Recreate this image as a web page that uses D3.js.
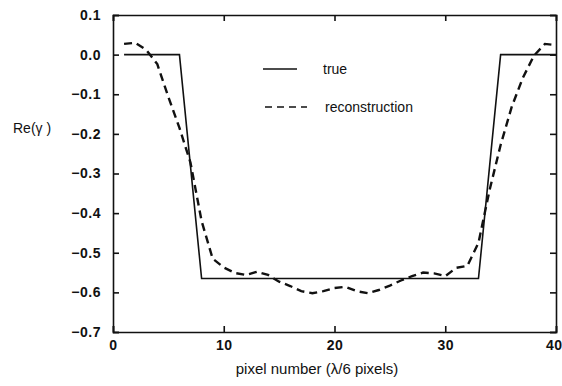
<!DOCTYPE html>
<html>
<head>
<meta charset="utf-8">
<script src="https://cdn.jsdelivr.net/npm/d3@7"></script>
<style>
  body { margin: 0; background: #fff; }
  svg { display: block; }
  .tick text { font-family: "Liberation Sans", Arial, sans-serif; font-weight: bold; font-size: 14px; letter-spacing: 0.5px; }
  .lbl { font-family: "Liberation Sans", Arial, sans-serif; fill: #111; }
</style>
</head>
<body>
<svg id="chart" width="562" height="386"></svg>
<script>
'use strict';

// pixel index 1..40
const pixels = d3.range(1, 41);

// true profile (piecewise, sampled at integer pixels)
const trueValues = [
  0, 0, 0, 0, 0, 0, -0.2825, -0.565, -0.565, -0.565,
  -0.565, -0.565, -0.565, -0.565, -0.565, -0.565, -0.565, -0.565, -0.565, -0.565,
  -0.565, -0.565, -0.565, -0.565, -0.565, -0.565, -0.565, -0.565, -0.565, -0.565,
  -0.565, -0.565, -0.565, -0.2825, 0, 0, 0, 0, 0, 0
];

// reconstruction
const reconValues = [
  0.027, 0.030, 0.012, -0.024, -0.107, -0.185, -0.273, -0.420, -0.515, -0.537,
  -0.551, -0.556, -0.548, -0.556, -0.573, -0.584, -0.597, -0.602, -0.597, -0.589,
  -0.586, -0.597, -0.602, -0.594, -0.583, -0.570, -0.559, -0.550, -0.552, -0.559,
  -0.538, -0.533, -0.475, -0.342, -0.228, -0.132, -0.059, -0.003, 0.027, 0.024
];

const xTicks = [0, 10, 20, 30, 40];
const yTicks = [0.1, 0.0, -0.1, -0.2, -0.3, -0.4, -0.5, -0.6, -0.7];

const svg = d3.select('#chart');
const plotLeft = 113, plotRight = 556, plotTop = 15, plotBottom = 332;

const x = d3.scaleLinear().domain([0, 40]).range([plotLeft, plotRight]);
const y = d3.scaleLinear().domain([-0.7, 0.1]).range([plotBottom, plotTop]);

const fmtY = d => (d < 0 ? '\u2212' : '') + Math.abs(d).toFixed(1);

// axes, ticks pointing inward on all four sides
const xAxis = svg.append('g')
  .attr('transform', `translate(0,${plotBottom})`)
  .call(d3.axisBottom(x).tickValues(xTicks).tickSize(-6).tickPadding(8).tickFormat(d3.format('d')));
// last label sits at the right edge of the page, keep it inside
xAxis.selectAll('.tick text')
  .filter(d => d === 40)
  .attr('text-anchor', 'end')
  .attr('dx', 6);

svg.append('g')
  .attr('transform', `translate(0,${plotTop})`)
  .call(d3.axisTop(x).tickValues(xTicks).tickSize(-6).tickFormat(''));
svg.append('g')
  .attr('transform', `translate(${plotLeft},0)`)
  .call(d3.axisLeft(y).tickValues(yTicks).tickSize(-6).tickPadding(12).tickFormat(fmtY));
svg.append('g')
  .attr('transform', `translate(${plotRight},0)`)
  .call(d3.axisRight(y).tickValues(yTicks).tickSize(-6).tickFormat(''));

svg.selectAll('.domain').attr('stroke', '#111').attr('stroke-width', 1.6);
svg.selectAll('.tick line').attr('stroke', '#111').attr('stroke-width', 1.6);
svg.selectAll('.tick text').attr('fill', '#111');

const line = d3.line()
  .x((d, i) => x(pixels[i]))
  .y(d => y(d));

svg.append('path')
  .datum(trueValues)
  .attr('fill', 'none')
  .attr('stroke', '#111')
  .attr('stroke-width', 1.6)
  .attr('d', line);

svg.append('path')
  .datum(reconValues)
  .attr('fill', 'none')
  .attr('stroke', '#111')
  .attr('stroke-width', 2.4)
  .attr('stroke-dasharray', '8,5')
  .attr('d', line);

// legend
const legend = svg.append('g');
legend.append('line')
  .attr('x1', 263).attr('x2', 297).attr('y1', 69).attr('y2', 69)
  .attr('stroke', '#111').attr('stroke-width', 1.4);
legend.append('text').attr('class', 'lbl')
  .attr('x', 323).attr('y', 74).attr('font-size', 14).text('true');
legend.append('line')
  .attr('x1', 265).attr('x2', 307).attr('y1', 107).attr('y2', 107)
  .attr('stroke', '#111').attr('stroke-width', 1.6).attr('stroke-dasharray', '7,5');
legend.append('text').attr('class', 'lbl')
  .attr('x', 325).attr('y', 112).attr('font-size', 14).text('reconstruction');

// axis titles
svg.append('text').attr('class', 'lbl')
  .attr('x', 13).attr('y', 133).attr('font-size', 14)
  .text('Re(\u03B3 )');
svg.append('text').attr('class', 'lbl')
  .attr('x', 317).attr('y', 374).attr('font-size', 15)
  .attr('text-anchor', 'middle')
  .text('pixel number (\u03BB/6 pixels)');
</script>
</body>
</html>
